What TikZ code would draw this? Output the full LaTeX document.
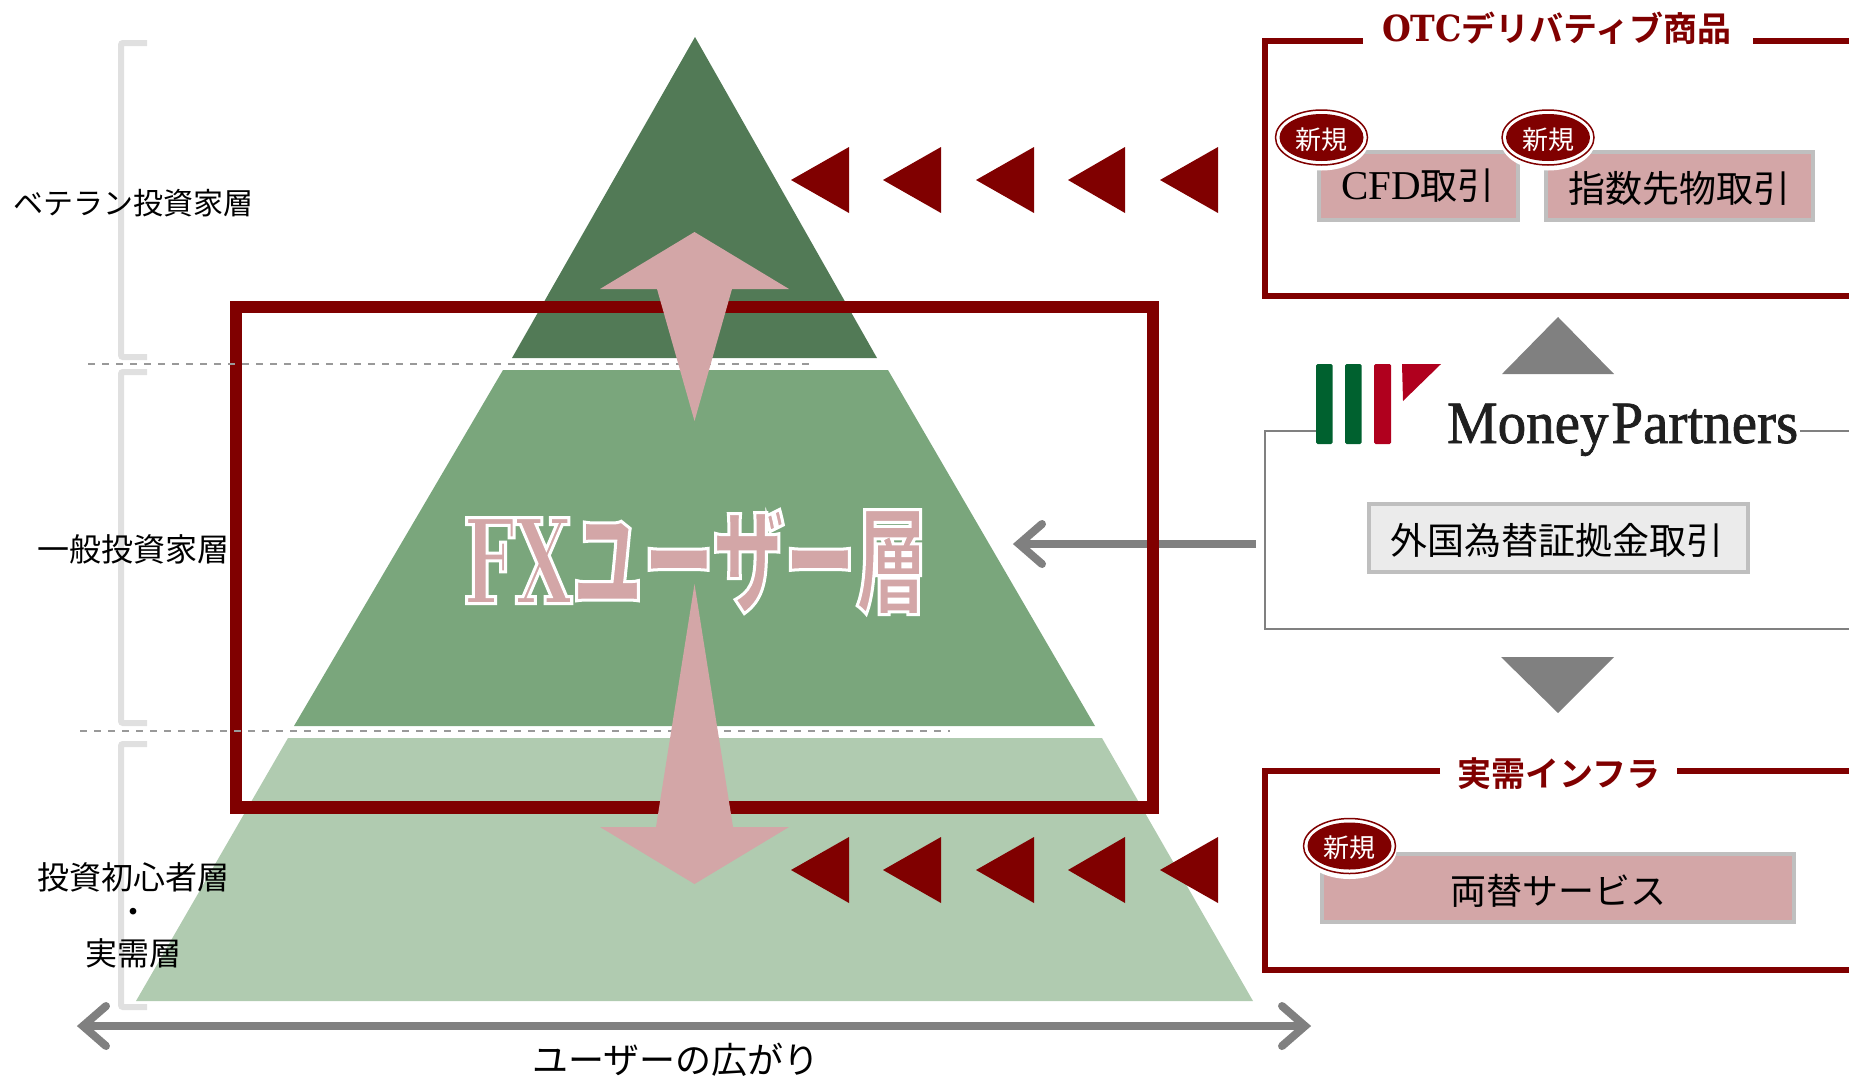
\documentclass[tikz,border=0pt]{standalone}
\usepackage{fontspec}
\usetikzlibrary{shapes.geometric}
\setmainfont{Noto Sans CJK JP}
\newfontfamily\cjkbold{Noto Sans CJK JP Bold}
\newfontfamily\cjkstretch[FakeStretch=0.62]{Noto Sans CJK JP Black}
\newfontfamily\slabfont[FakeStretch=0.92]{DejaVu Serif Bold}
\newfontfamily\slabstretch[FakeStretch=0.62]{DejaVu Serif Bold}
\newfontfamily\latinserif{Liberation Serif}
\newfontfamily\mpfont[FakeStretch=0.95,FakeBold=1.2]{Liberation Serif}
\definecolor{dred}{HTML}{800000}
\definecolor{pinkfill}{HTML}{D3A6A7}
\definecolor{midgray}{HTML}{808080}
\definecolor{boxgray}{HTML}{BFBFBF}
\definecolor{lightgray2}{HTML}{E0E0E0}
\definecolor{greenA}{HTML}{527A56}
\definecolor{greenB}{HTML}{7AA67C}
\definecolor{greenC}{HTML}{B0CBB0}
\definecolor{mpgreen}{HTML}{00612F}
\definecolor{mpred}{HTML}{B0001E}
\newcommand{\fsz}[1]{\fontsize{#1}{#1}\selectfont}
\tikzset{
  x=1pt,y=-1pt,
  txt/.style={inner sep=0pt,outer sep=0pt,anchor=center},
  lefttext/.style={txt,font=\fsz{32},align=center},
  frameline/.style={draw=dred,line width=6.5pt,line cap=butt,line join=miter},
  pinkbox/.style={draw=boxgray,line width=4pt,fill=pinkfill,inner sep=0pt},
  greybox/.style={draw=boxgray,line width=4pt,fill=black!8,inner sep=0pt},
  bracket/.style={draw=lightgray2,line width=6pt,rounded corners=2pt},
  dashline/.style={draw=midgray!80,line width=1.5pt,dash pattern=on 7pt off 7pt},
  chevron/.style={draw=midgray,line width=8pt,line cap=round,line join=miter},
  shaft/.style={draw=midgray,line width=8pt},
  triL/.style={fill=dred},
  badgehalo/.style={ellipse,fill=white,minimum width=94pt,minimum height=58pt,inner sep=0pt},
  badgering/.style={ellipse,fill=white,draw=dred,line width=1.5pt,minimum width=92pt,minimum height=55pt,inner sep=0pt},
  badge/.style={ellipse,fill=dred,minimum width=84pt,minimum height=47pt,inner sep=0pt},
  badgetext/.style={txt,text=white,font=\fsz{26}},
}
\newcommand{\badgeat}[3]{%
  \node[badgehalo] (#1h) at (#2,#3+4) {};
  \node[badgering] (#1o) at (#2,#3) {};
  \node[badge] (#1) at (#2,#3) {};
  \node[badgetext] (#1t) at (#2,#3+2) {新規};
}
\begin{document}
\begin{tikzpicture}
\useasboundingbox (0,0) rectangle (1849,1077);
% pyramid
\fill[greenA] (695,37) -- (877,358) -- (512,358) -- cycle;
\fill[greenB] (503,370) -- (888,370) -- (1095,726) -- (294,726) -- cycle;
\fill[greenC] (288,738) -- (1102,738) -- (1253,1001) -- (136,1001) -- cycle;
% gray arrow (runs under the red frame)
\coordinate (ga) at (1256,544); \coordinate (gb) at (1019,544);
\draw[shaft] (ga) -- (gb);
\draw[chevron] (1042,524) -- (gb) -- (1042,564);
% red frame
\draw[dred,line width=12.5pt,line join=miter] (236,307) rectangle (1153,807.5);
% dashed
\coordinate (d1a) at (88,364); \coordinate (d1b) at (809,364);
\coordinate (d2a) at (80,731); \coordinate (d2b) at (950,731);
\draw[dashline] (d1a) -- (d1b);
\draw[dashline] (d2a) -- (d2b);
% brackets
\draw[bracket] (147,43) -- (121,43) -- (121,357) -- (147,357);
\draw[bracket] (147,372) -- (121,372) -- (121,723) -- (147,723);
\draw[bracket] (147,744) -- (121,744) -- (121,1007) -- (147,1007);
% pink arrows
\fill[pinkfill] (694.5,232) -- (789,289) -- (732,289) -- (694.5,421) -- (657,289) -- (600,289) -- cycle;
\fill[pinkfill] (694.5,884) -- (789,827) -- (733,827) -- (694.5,584) -- (656,827) -- (600,827) -- cycle;
% FX label
\node[txt] (fx) at (695,562) {\special{pdf:code q 2 Tr 3 w 1 1 1 RG 0.827 0.651 0.655 rg}{\fsz{118}\slabstretch FX}{\fsz{115}\cjkstretch ユーザー層}\special{pdf:code Q}};
% triangles
\foreach \tx/\bx in {791/849,883/941,976/1034,1068/1125,1160/1218}{
  \fill[triL] (\tx,180) -- (\bx,147) -- (\bx,213) -- cycle;
  \fill[triL] (\tx,870) -- (\bx,837) -- (\bx,903) -- cycle;
}
% left labels
\node[lefttext,font=\fsz{30}] (l1) at (133,203) {ベテラン投資家層};
\node[lefttext] (l2) at (133,549) {一般投資家層};
\node[lefttext] (l3) at (133,877) {投資初心者層};
\node[lefttext,font=\fsz{26}\cjkbold] (l4) at (133,915) {・};
\node[lefttext] (l5) at (133,953) {実需層};
% bottom double arrow
\coordinate (wa) at (83,1026); \coordinate (wb) at (1305,1026);
\draw[shaft] (wa) -- (wb);
\draw[chevron] (106,1006) -- (wa) -- (106,1046);
\draw[chevron] (1282,1006) -- (wb) -- (1282,1046);
\node[txt,font=\fsz{36}] (lspread) at (676,1060) {ユーザーの広がり};
% OTC box
\node[txt,font=\fsz{34}\cjkbold,text=dred] (otc) at (1557,28) {{\fsz{36}\slabfont OTC}デリバティブ商品};
\draw[frameline] (1363,41) -- (1265,41) -- (1265,296) -- (1849,296);
\draw[frameline] (1753,41) -- (1849,41);
\node[pinkbox,minimum width=199pt,minimum height=68pt] (cfd) at (1418.5,186) {};
\node[pinkbox,minimum width=267pt,minimum height=68pt] (idx) at (1679.5,186) {};
\node[txt,font=\fsz{37}] (cfdt) at (1418,186) {{\fsz{41}\latinserif CFD}取引};
\node[txt,font=\fsz{37}] (idxt) at (1679,189) {指数先物取引};
\badgeat{b1}{1321.5}{137.5}
\badgeat{b2}{1548}{137.5}
% Money Partners
\draw[midgray,line width=2pt] (1316,431) -- (1265,431) -- (1265,629) -- (1849,629);
\draw[midgray,line width=2pt] (1800,431) -- (1849,431);
\fill[midgray] (1558,317) -- (1614,374) -- (1502,374) -- cycle;
\fill[midgray] (1558,713) -- (1614,657) -- (1501,657) -- cycle;
\fill[mpgreen,rounded corners=1.5pt] (1316,364) rectangle (1332.5,444);
\fill[mpgreen,rounded corners=1.5pt] (1345,364) rectangle (1361.5,444);
\fill[mpred,rounded corners=1.5pt] (1374,364) rectangle (1391,444);
\fill[mpred] (1402,364) -- (1441,364) -- (1403,401) -- cycle;
\node[txt,anchor=base west,font=\fsz{60}\mpfont,text=black!88] (mp) at (1447,443) {Money\hspace{3pt}Partners};
\node[greybox,minimum width=379pt,minimum height=68pt] (fxbox) at (1558,538) {};
\node[txt,font=\fsz{37}] (fxt) at (1557,540) {外国為替証拠金取引};
% infra box
\node[txt,font=\fsz{34}\cjkbold,text=dred] (infra) at (1559,774) {実需インフラ};
\draw[frameline] (1440,771) -- (1265,771) -- (1265,970) -- (1849,970);
\draw[frameline] (1677,771) -- (1849,771);
\node[pinkbox,minimum width=472pt,minimum height=68pt] (ex) at (1558,888) {};
\node[txt,font=\fsz{36}] (ext) at (1558,891) {両替サービス};
\badgeat{b3}{1349.5}{846}
\end{tikzpicture}
\end{document}
